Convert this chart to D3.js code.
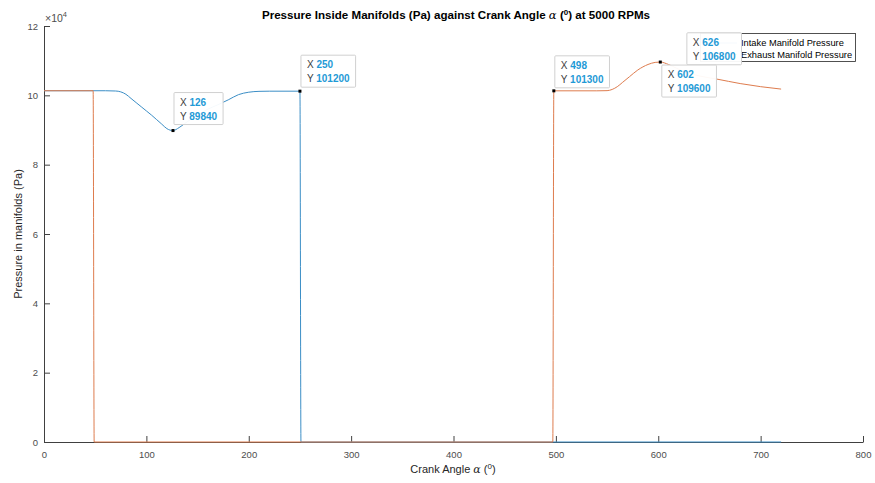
<!DOCTYPE html>
<html>
<head>
<meta charset="utf-8">
<script src="https://cdn.jsdelivr.net/npm/d3@7"></script>
<style>
  body { margin: 0; background: #fff; }
  svg text { font-family: "Liberation Sans", Arial, Helvetica, sans-serif; }
</style>
</head>
<body>
<svg id="chart" width="875" height="483"></svg>
<script>
// Axis ticks
const angleTicks = [0, 100, 200, 300, 400, 500, 600, 700, 800];
const pressureTicks = [0, 20000, 40000, 60000, 80000, 100000, 120000];

// Intake manifold pressure (Pa) vs crank angle (deg)
const intakeAngle = [0, 60, 70, 75, 80, 85, 90, 95, 100, 105, 110, 115, 120, 126, 132, 140, 150, 160, 170, 180, 190, 200, 210, 220, 250, 251, 720];
const intakePressure = [101325, 101325, 101250, 101000, 100300, 99100, 97900, 96700, 95500, 94300, 93000, 91700, 90400, 89840, 90700, 92400, 94300, 96000, 97300, 98700, 100200, 100900, 101150, 101200, 101200, 0, 0];

// Exhaust manifold pressure (Pa) vs crank angle (deg)
const exhaustAngle = [0, 48, 49, 497, 498, 540, 550, 555, 560, 565, 572, 580, 590, 597, 602, 610, 618, 626, 640, 657, 680, 700, 720];
const exhaustPressure = [101325, 101325, 0, 0, 101300, 101300, 101350, 101700, 102500, 103700, 105400, 107300, 108900, 109500, 109600, 108900, 107800, 106800, 105600, 104700, 103400, 102500, 101800];

// Data tips (listed in stacking order)
const tipAngle = [126, 250, 498, 626, 602];
const tipPressure = [89840, 101200, 101300, 106800, 109600];

const seriesNames = ["Intake Manifold Pressure", "Exhaust Manifold Pressure"];
const seriesColors = ["#3b8ec6", "#de7c4e"];

const svg = d3.select("#chart");
const x = d3.scaleLinear().domain([0, 800]).range([44, 863]);
const y = d3.scaleLinear().domain([0, 120000]).range([442, 26]);
const axisColor = "#404040";
const labelColor = "#4d4d4d";

// Axes (ticks point inward)
const xAxis = svg.append("g")
  .attr("transform", `translate(0,${y(0)})`)
  .call(d3.axisBottom(x).tickValues(angleTicks).tickSizeInner(-6).tickSizeOuter(0).tickPadding(9));
const yAxis = svg.append("g")
  .attr("transform", `translate(${x(0)},0)`)
  .call(d3.axisLeft(y).tickValues(pressureTicks).tickSizeInner(-6).tickSizeOuter(0).tickPadding(6)
    .tickFormat(d => d / 10000));
[xAxis, yAxis].forEach(g => {
  g.select(".domain").attr("stroke", axisColor);
  g.selectAll(".tick line").attr("stroke", axisColor);
  g.selectAll(".tick text").attr("fill", labelColor).attr("font-size", 9.5)
    .attr("font-family", "Liberation Sans, Arial, sans-serif");
});

// Exponent label
const expo = svg.append("text").attr("x", 45).attr("y", 22).attr("font-size", 10.5).attr("fill", labelColor);
expo.append("tspan").text("\u00D710");
expo.append("tspan").attr("dy", -5).attr("font-size", 7.5).text("4");

// Title
const title = svg.append("text").attr("x", 456).attr("y", 19).attr("text-anchor", "middle")
  .attr("font-size", 11.6).attr("font-weight", "bold").attr("fill", "#000");
title.append("tspan").text("Pressure Inside Manifolds (Pa) against Crank Angle ");
title.append("tspan").attr("font-family", "DejaVu Serif, serif").attr("font-style", "italic").attr("font-weight", "normal").text("\u03B1");
title.append("tspan").text(" (");
title.append("tspan").attr("dy", -4).attr("font-size", 8).text("0");
title.append("tspan").attr("dy", 4).text(") at 5000 RPMs");

// Axis labels
const xl = svg.append("text").attr("x", 453).attr("y", 473).attr("text-anchor", "middle")
  .attr("font-size", 11).attr("fill", "#262626");
xl.append("tspan").text("Crank Angle ");
xl.append("tspan").attr("font-family", "DejaVu Serif, serif").attr("font-style", "italic").text("\u03B1");
xl.append("tspan").text(" (");
xl.append("tspan").attr("dy", -4).attr("font-size", 8).text("0");
xl.append("tspan").attr("dy", 4).text(")");

svg.append("text").attr("transform", `translate(22,${(y(0) + y(120000)) / 2}) rotate(-90)`)
  .attr("text-anchor", "middle").attr("font-size", 11).attr("fill", "#262626")
  .text("Pressure in manifolds (Pa)");

// Lines
const line = d3.line().x(d => x(d[0])).y(d => y(d[1])).curve(d3.curveMonotoneX);
const intake = intakeAngle.map((a, i) => [a, intakePressure[i]]);
const exhaust = exhaustAngle.map((a, i) => [a, exhaustPressure[i]]);
[intake, exhaust].forEach((data, i) => {
  svg.append("path").datum(data).attr("d", line)
    .attr("fill", "none").attr("stroke", seriesColors[i]).attr("stroke-width", 1);
});

// Legend
const lg = svg.append("g");
lg.append("rect").attr("x", 700.5).attr("y", 33.5).attr("width", 155).attr("height", 28)
  .attr("fill", "#fff").attr("stroke", "#262626").attr("stroke-width", 0.8);
seriesNames.forEach((name, i) => {
  const ly = 43 + i * 11.5;
  lg.append("line").attr("x1", 705).attr("x2", 737).attr("y1", ly).attr("y2", ly)
    .attr("stroke", seriesColors[i]).attr("stroke-width", 1);
  lg.append("text").attr("x", 741).attr("y", ly + 3).attr("font-size", 9.3).attr("fill", "#000").text(name);
});

// Data tip markers
tipAngle.forEach((a, i) => {
  svg.append("rect").attr("x", x(a) - 1.5).attr("y", y(tipPressure[i]) - 1.5)
    .attr("width", 3).attr("height", 3).attr("fill", "#000");
});

// Data tip boxes: offsets relative to the marked point
const tipOffsets = [[1, -38], [1, -36], [1, -35], [2, -39], [1.5, 3]];
tipAngle.forEach((a, i) => {
  const px = x(a), py = y(tipPressure[i]);
  const g = svg.append("g");
  const bx = px + tipOffsets[i][0], by = py + tipOffsets[i][1];
  const box = g.append("rect").attr("x", bx).attr("y", by).attr("height", 32)
    .attr("fill", "#fff").attr("fill-opacity", 0.95).attr("stroke", "#d0d0d0").attr("stroke-width", 1).attr("rx", 1);
  const t = g.append("g").attr("font-size", 10);
  const r1 = t.append("text").attr("x", bx + 6).attr("y", by + 13);
  r1.append("tspan").attr("fill", "#404040").text("X ");
  r1.append("tspan").attr("fill", "#1f9ad6").attr("font-weight", "bold").text(a);
  const r2 = t.append("text").attr("x", bx + 6).attr("y", by + 27);
  r2.append("tspan").attr("fill", "#404040").text("Y ");
  r2.append("tspan").attr("fill", "#1f9ad6").attr("font-weight", "bold").text(tipPressure[i]);
  const w = Math.max(r1.node().getComputedTextLength(), r2.node().getComputedTextLength()) + 12;
  box.attr("width", w);
});
</script>
</body>
</html>
